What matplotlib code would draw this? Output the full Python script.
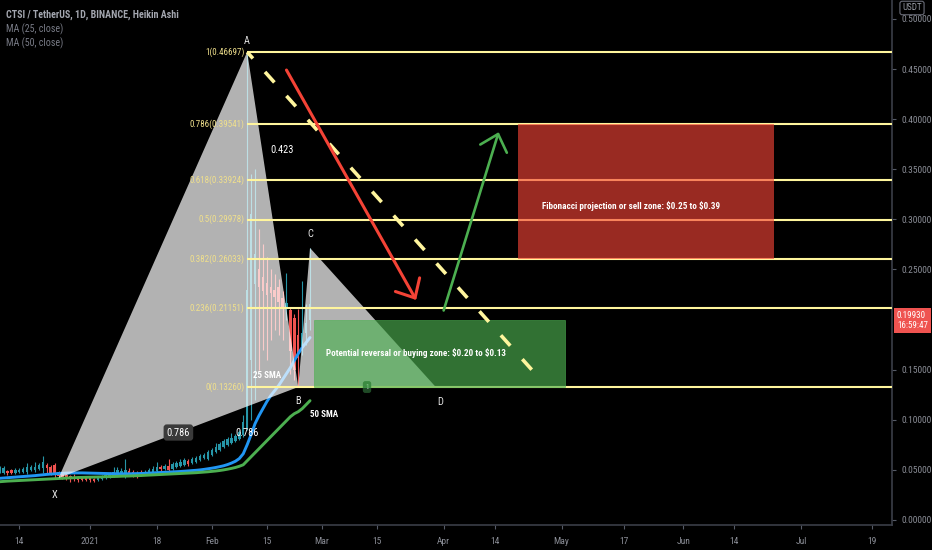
import numpy as np
import pandas as pd
import matplotlib
matplotlib.use('Agg')
import matplotlib.pyplot as plt
from matplotlib import font_manager
from matplotlib.patches import Rectangle, Polygon

# daily Heikin Ashi candles for CTSI/USDT, first candle on 2020-12-08
start = '2020-12-08'
ha_open = [0.049, 0.050, 0.047, 0.049, 0.050, 0.047, 0.048, 0.048, 0.048, 0.050,
           0.050, 0.051, 0.052, 0.055, 0.053, 0.055, 0.048, 0.046, 0.045, 0.044,
           0.043, 0.043, 0.042, 0.042, 0.042, 0.041, 0.040, 0.041, 0.042, 0.043,
           0.044, 0.046, 0.047, 0.045, 0.049, 0.048, 0.047, 0.048, 0.046, 0.047,
           0.047, 0.049, 0.053, 0.051, 0.054, 0.051, 0.053, 0.054, 0.055, 0.059,
           0.057, 0.058, 0.060, 0.062, 0.061, 0.065, 0.068, 0.070, 0.073, 0.075,
           0.077, 0.079, 0.081, 0.085, 0.092, 0.160, 0.235, 0.250, 0.242, 0.236,
           0.232, 0.229, 0.232, 0.221, 0.212, 0.209, 0.202, 0.185, 0.174, 0.187,
           0.200]
ha_high = [0.053, 0.054, 0.054, 0.050, 0.051, 0.052, 0.052, 0.053, 0.057, 0.055,
           0.058, 0.057, 0.064, 0.057, 0.055, 0.057, 0.049, 0.047, 0.046, 0.045,
           0.046, 0.044, 0.043, 0.043, 0.043, 0.042, 0.043, 0.045, 0.046, 0.048,
           0.053, 0.053, 0.052, 0.061, 0.052, 0.050, 0.049, 0.050, 0.050, 0.052,
           0.054, 0.058, 0.055, 0.056, 0.061, 0.058, 0.059, 0.061, 0.062, 0.061,
           0.063, 0.064, 0.066, 0.067, 0.070, 0.072, 0.077, 0.078, 0.081, 0.083,
           0.087, 0.086, 0.090, 0.105, 0.46697, 0.345, 0.350, 0.290, 0.275, 0.262,
           0.250, 0.245, 0.240, 0.228, 0.246, 0.212, 0.205, 0.210, 0.238, 0.215,
           0.2714]
ha_low = [0.046, 0.047, 0.046, 0.045, 0.046, 0.046, 0.047, 0.047, 0.046, 0.049,
          0.048, 0.050, 0.047, 0.047, 0.045, 0.042, 0.0418, 0.041, 0.040, 0.038,
          0.039, 0.038, 0.039, 0.039, 0.038, 0.038, 0.039, 0.040, 0.041, 0.042,
          0.043, 0.044, 0.045, 0.042, 0.044, 0.043, 0.042, 0.044, 0.045, 0.046,
          0.046, 0.048, 0.047, 0.050, 0.047, 0.050, 0.052, 0.053, 0.054, 0.054,
          0.056, 0.057, 0.059, 0.061, 0.060, 0.064, 0.067, 0.069, 0.072, 0.074,
          0.076, 0.078, 0.080, 0.083, 0.090, 0.100, 0.120, 0.150, 0.170, 0.160,
          0.180, 0.190, 0.185, 0.180, 0.200, 0.146, 0.140, 0.1326, 0.165, 0.175,
          0.190]
ha_close = [0.051, 0.052, 0.052, 0.047, 0.047, 0.050, 0.050, 0.051, 0.053, 0.053,
            0.053, 0.055, 0.058, 0.052, 0.047, 0.046, 0.044, 0.043, 0.042, 0.041,
            0.041, 0.040, 0.040, 0.040, 0.040, 0.039, 0.042, 0.043, 0.045, 0.046,
            0.048, 0.050, 0.049, 0.050, 0.046, 0.045, 0.044, 0.046, 0.048, 0.050,
            0.051, 0.053, 0.051, 0.054, 0.050, 0.056, 0.057, 0.058, 0.060, 0.056,
            0.061, 0.062, 0.064, 0.065, 0.068, 0.070, 0.073, 0.076, 0.079, 0.081,
            0.082, 0.084, 0.088, 0.098, 0.229, 0.305, 0.265, 0.232, 0.228, 0.224,
            0.226, 0.222, 0.217, 0.212, 0.216, 0.169, 0.150, 0.162, 0.187, 0.197,
            0.215]
ma25 = [0.0412, 0.0415, 0.0418, 0.0421, 0.0424, 0.0427, 0.0430, 0.0433, 0.0436, 0.0439,
        0.0442, 0.0446, 0.0450, 0.0454, 0.0457, 0.0460, 0.0463, 0.0465, 0.0467, 0.0468,
        0.0469, 0.0469, 0.0469, 0.0468, 0.0467, 0.0466, 0.0465, 0.0464, 0.0463, 0.0462,
        0.0461, 0.0460, 0.0460, 0.0460, 0.0460, 0.0461, 0.0462, 0.0463, 0.0465, 0.0467,
        0.0469, 0.0471, 0.0473, 0.0475, 0.0477, 0.0479, 0.0481, 0.0483, 0.0486, 0.0489,
        0.0492, 0.0495, 0.0499, 0.0504, 0.0510, 0.0516, 0.0523, 0.0531, 0.0540, 0.0552,
        0.0567, 0.0585, 0.0612, 0.066, 0.075, 0.085, 0.096, 0.104, 0.111, 0.118,
        0.124, 0.129, 0.134, 0.140, 0.146, 0.152, 0.159, 0.166, 0.172, 0.177,
        0.182]
ma50 = [0.0378, 0.0381, 0.0384, 0.0387, 0.0389, 0.0391, 0.0393, 0.0395, 0.0397, 0.0399,
        0.0401, 0.0403, 0.0405, 0.0407, 0.0409, 0.0411, 0.0413, 0.0415, 0.0417, 0.0419,
        0.0421, 0.0423, 0.0424, 0.0425, 0.0426, 0.0427, 0.0428, 0.0429, 0.0431, 0.0432,
        0.0433, 0.0434, 0.0436, 0.0437, 0.0438, 0.0440, 0.0441, 0.0443, 0.0445, 0.0447,
        0.0449, 0.0451, 0.0453, 0.0455, 0.0457, 0.0459, 0.0461, 0.0463, 0.0465, 0.0467,
        0.0469, 0.0471, 0.0474, 0.0477, 0.0480, 0.0484, 0.0488, 0.0493, 0.0499, 0.0506,
        0.0514, 0.0523, 0.0535, 0.055, 0.059, 0.063, 0.067, 0.071, 0.075, 0.079,
        0.083, 0.087, 0.091, 0.095, 0.099, 0.103, 0.106, 0.108, 0.111, 0.115,
        0.119]
last_price = 0.19930

# fib retracement A -> B
fib_ratios = ['1', '0.786', '0.618', '0.5', '0.382', '0.236', '0']
fib_prices = [0.46697, 0.39541, 0.33924, 0.29978, 0.26033, 0.21151, 0.13260]

# XABCD pattern
xabcd_names = ['X', 'A', 'B', 'C', 'D']
xabcd_dates = ['2020-12-24', '2021-02-10', '2021-02-23', '2021-02-26', '2021-03-30']
xabcd_prices = [0.0418, 0.46697, 0.1326, 0.2714, 0.1326]
xb_ratio, ac_ratio, xd_ratio = '0.786', '0.423', '0.786'

# zones
buy_dates = ['2021-02-27', '2021-05-02']
buy_prices = [0.1326, 0.20]
sell_dates = ['2021-04-20', '2021-06-24']
sell_prices = [0.26033, 0.39541]

# trend drawings
drop_dates = ['2021-02-20', '2021-03-25']
drop_prices = [0.449, 0.2195]
rise_dates = ['2021-04-01', '2021-04-15']
rise_prices = [0.209, 0.387]
trend_dates = ['2021-02-10', '2021-04-26']
trend_prices = [0.46697, 0.1386]

tick_dates = ['2020-12-14', '2021-01-01', '2021-01-18', '2021-02-01', '2021-02-15',
              '2021-03-01', '2021-03-15', '2021-04-01', '2021-04-14', '2021-05-01',
              '2021-05-17', '2021-06-01', '2021-06-14', '2021-07-01', '2021-07-19']
tick_labels = ['14', '2021', '18', 'Feb', '15', 'Mar', '15', 'Apr', '14', 'May',
               '17', 'Jun', '14', 'Jul', '19']
# 0.20 is left out: the last price tag sits on it
price_ticks = [0.0, 0.05, 0.10, 0.15, 0.25, 0.30, 0.35, 0.40, 0.45, 0.50]

BASE = pd.Timestamp('2021-01-01')


def day(s):
    return (pd.Timestamp(s) - BASE).days


def first_font(names):
    for name in names:
        try:
            font_manager.findfont(font_manager.FontProperties(family=name),
                                  fallback_to_default=False)
            return name
        except ValueError:
            continue
    return 'DejaVu Sans'


narrow = first_font(['Liberation Sans Narrow', 'Roboto Condensed', 'Open Sans Condensed',
                     'Liberation Sans'])
plt.rcParams['font.family'] = [narrow, 'DejaVu Sans']

UP = '#2696a8'
DOWN = '#ef5350'
FIB = '#fff59d'
FIB_TXT = '#f0e08c'
AXIS_TXT = '#8a8d96'

fig = plt.figure(figsize=(9.32, 5.5), dpi=100, facecolor='black')
ax = fig.add_axes([0, 25 / 550, 892 / 932, 525 / 550])
ax.set_facecolor('black')

# candles
days = np.arange(len(ha_open)) + day(start)
o, h, l, c = map(np.array, (ha_open, ha_high, ha_low, ha_close))
cols = np.where(c >= o, UP, DOWN)
ax.vlines(days, l, h, colors=cols, lw=0.8, zorder=2)
ax.bar(days, np.maximum(np.abs(c - o), 0.0015), bottom=np.minimum(o, c), width=0.62,
       color=cols, linewidth=0, zorder=2)

# moving averages
ax.plot(days, ma25, color='#2196f3', lw=2.1, zorder=2.5, solid_capstyle='round')
ax.plot(days, ma50, color='#4caf50', lw=2.1, zorder=2.5, solid_capstyle='round')

# harmonic pattern triangles
px = [day(d) for d in xabcd_dates]
py = xabcd_prices
ax.add_patch(Polygon([(px[0], py[0]), (px[1], py[1]), (px[2], py[2])], closed=True,
                     fc='white', alpha=0.7, lw=0, zorder=3))
ax.add_patch(Polygon([(px[2], py[2]), (px[3], py[3]), (px[4], py[4])], closed=True,
                     fc='white', alpha=0.7, lw=0, zorder=3))

# fib levels
x_right = 204.1
ax.hlines(fib_prices, px[1], x_right + 5, colors=FIB, lw=1.5, zorder=4)
for r, p in zip(fib_ratios, fib_prices):
    ax.annotate(f'{r}({p:.5f})', xy=(px[1], p), xytext=(-2, 0), textcoords='offset points',
                ha='right', va='center', color=FIB_TXT, fontsize=6.5, zorder=7)

# zones
ax.add_patch(Rectangle((day(buy_dates[0]), buy_prices[0]), day(buy_dates[1]) - day(buy_dates[0]),
                       buy_prices[1] - buy_prices[0], fc='#4caf50', ec='#4caf50', lw=0.6,
                       alpha=0.65, zorder=5))
ax.add_patch(Rectangle((day(sell_dates[0]), sell_prices[0]), day(sell_dates[1]) - day(sell_dates[0]),
                       sell_prices[1] - sell_prices[0], fc='#f44336', ec='none',
                       alpha=0.63, zorder=5))
ax.text(day('2021-03-02'), 0.167, r'Potential reversal or buying zone: \$0.20 to \$0.13',
        color='white', fontsize=6.6, fontweight='bold', va='center', ha='left', zorder=8)
ax.text(day('2021-04-26'), 0.313, r'Fibonacci projection or sell zone: \$0.25 to \$0.39',
        color='white', fontsize=6.6, fontweight='bold', va='center', ha='left', zorder=8)

# dashed trend line from A
ax.plot([day(d) for d in trend_dates], trend_prices, color=FIB, lw=2.6,
        linestyle=(1.5, (3.9, 5.0)), zorder=6)

# arrows
ax.annotate('', xy=(day(drop_dates[1]), drop_prices[1]), xytext=(day(drop_dates[0]), drop_prices[0]),
            arrowprops=dict(arrowstyle='->,head_length=1.1,head_width=1.0', color='#f44336',
                            lw=2.2, shrinkA=0, shrinkB=0, mutation_scale=10), zorder=6)
ax.annotate('', xy=(day(rise_dates[1]), rise_prices[1]), xytext=(day(rise_dates[0]), rise_prices[0]),
            arrowprops=dict(arrowstyle='->,head_length=1.1,head_width=1.0', color='#4caf50',
                            lw=1.9, shrinkA=0, shrinkB=0, mutation_scale=10), zorder=6)

# pattern point labels
offsets = [(-3, -12), (0, 8), (0, -10), (0, 10), (3, -11)]
for name, x, y, off in zip(xabcd_names, px, py, offsets):
    ax.annotate(name, xy=(x, y), xytext=off, textcoords='offset points', ha='center',
                va='center', color='#e6e6e6', fontsize=7.5, zorder=8)

# ratio labels on pattern legs
ax.text((px[0] + px[2]) / 2, (py[0] + py[2]) / 2, xb_ratio, color='white', fontsize=7.5,
        ha='center', va='center', zorder=8,
        bbox=dict(boxstyle='round,pad=0.3', fc='#3a3a3a', ec='none'))
ax.text((px[1] + px[3]) / 2 + 1, (py[1] + py[3]) / 2, ac_ratio, color='white', fontsize=7.5,
        ha='center', va='center', zorder=8)
ax.text((px[0] + px[4]) / 2, (py[0] + py[4]) / 2, xd_ratio, color='white', fontsize=7.5,
        ha='center', va='center', zorder=8)
ax.text((px[2] + px[4]) / 2, py[2], '1', color='white', fontsize=5, ha='center', va='center',
        zorder=4.5, bbox=dict(boxstyle='round,pad=0.35', fc='#1f4a26', ec='none'))

# moving average labels
ax.text(45, 0.1446, '25 SMA', color='white', fontsize=6.5, fontweight='bold',
        ha='center', va='center', zorder=8)
ax.text(59.5, 0.1047, '50 SMA', color='white', fontsize=6.5, fontweight='bold',
        ha='center', va='center', zorder=8)

# axes
ax.set_xlim(-22.9, x_right)
ax.set_ylim(-0.0051, 0.5189)
ax.yaxis.tick_right()
ax.set_yticks(price_ticks)
ax.set_yticklabels([f'{t:.5f}' for t in price_ticks])
ax.set_xticks([day(d) for d in tick_dates])
ax.set_xticklabels(tick_labels)
ax.tick_params(axis='both', colors='#555a66', labelcolor=AXIS_TXT, labelsize=6.8,
               length=3, width=0.8, pad=4)
ax.tick_params(axis='x', pad=6)
for side in ['top', 'left']:
    ax.spines[side].set_visible(False)
for side in ['bottom', 'right']:
    ax.spines[side].set_color('#3a3e48')
    ax.spines[side].set_linewidth(1.2)

# last price tag
ax.annotate('0.19930\n16:59:47', xy=(1, last_price), xycoords=('axes fraction', 'data'),
            xytext=(3.5, 0), textcoords='offset points', ha='left', va='center',
            color='white', fontsize=6.5, linespacing=1.1, annotation_clip=False, zorder=10,
            bbox=dict(boxstyle='square,pad=0.35', fc='#ef5350', ec='none'))

# header
fig.text(0.006, 1 - 15 / 550, 'CTSI / TetherUS, 1D, BINANCE, Heikin Ashi', color='#a3a6af',
         fontsize=7.2, fontweight='bold', va='center')
fig.text(0.006, 1 - 29 / 550, 'MA (25, close)', color='#787b86', fontsize=7.2, va='center')
fig.text(0.006, 1 - 43 / 550, 'MA (50, close)', color='#787b86', fontsize=7.2, va='center')
fig.text(912 / 932, 1 - 8 / 550, 'USDT', color='#9598a1', fontsize=6.5, ha='center', va='center',
         zorder=20, bbox=dict(boxstyle='round,pad=0.25', fc='black', ec='#6a6d78', lw=0.8))

fig.savefig('out.png', dpi=100, facecolor='black')
